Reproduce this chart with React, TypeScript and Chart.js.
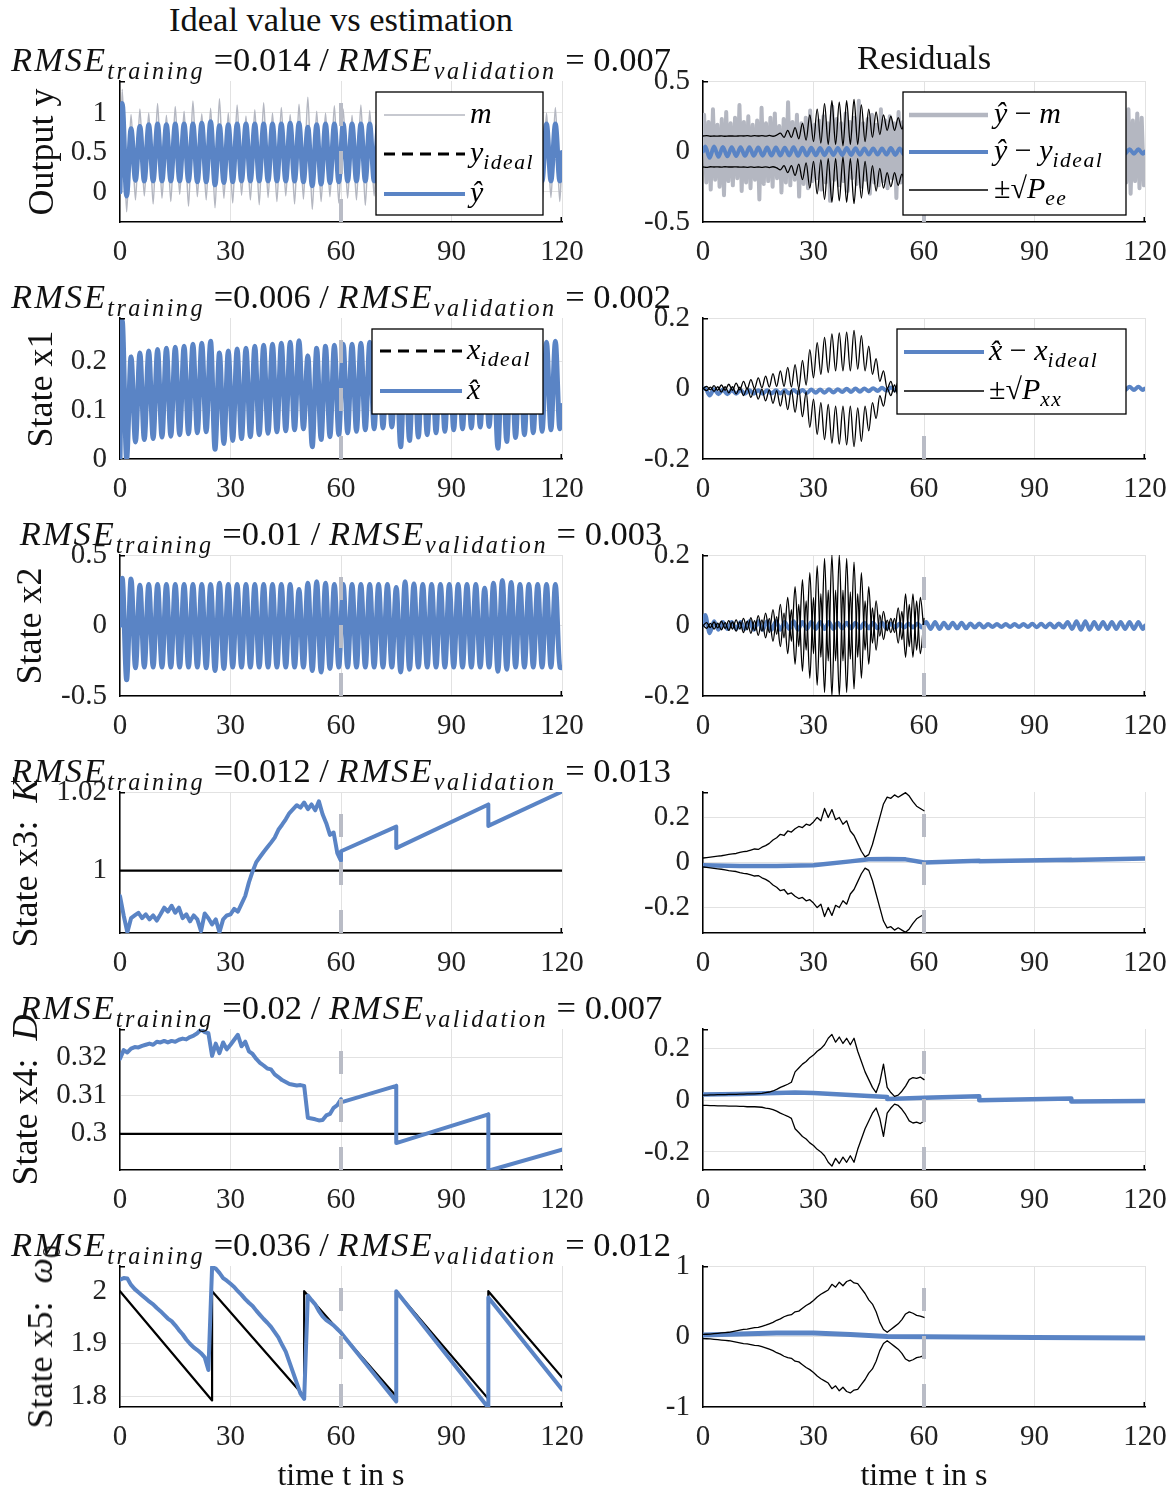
import React, { useEffect, useRef } from 'react';
import { Chart, registerables } from 'chart.js';

Chart.register(...registerables);

// ---------------- styles ----------------
const FONT = '"Liberation Serif", "Times New Roman", serif';
const BLUE = 'rgb(90,132,197)';
const GRAY = 'rgb(180,183,193)';
const VGRAY = 'rgb(185,188,198)';
const GRID = 'rgb(226,226,226)';
const TICK_COLOR = '#222';
const TICK_SIZE = 29;
const LEG_SIZE = 30;

// ---------------- data ----------------
const X_TICKS = [0, 30, 60, 90, 120];
const T_SPLIT = 60; // training / validation split
const HALF = 1.2; // half period of the oscillation samples (s)
const HALF_NOISE = 0.6; // spacing of the measurement-noise residual samples (s)

const RMSE_TRAIN = ['0.014', '0.006', '0.01', '0.012', '0.02', '0.036'];
const RMSE_VALID = ['0.007', '0.002', '0.003', '0.013', '0.007', '0.012'];

// Row 1 left: output y (peaks / troughs of each cycle)
const YHAT_PK = [
  1.12, 0.8, 0.83, 0.85, 0.86, 0.85, 0.86, 0.86, 0.86, 0.87,
  0.89, 0.84, 0.85, 0.86, 0.86, 0.86, 0.86, 0.86, 0.86, 0.87,
  0.87, 0.82, 0.85, 0.86, 0.86, 0.86, 0.86, 0.86, 0.86, 0.86,
  0.87, 0.84, 0.85, 0.86, 0.86, 0.86, 0.86, 0.86, 0.86, 0.86,
  0.86, 0.87, 0.83, 0.85, 0.86, 0.86, 0.86, 0.86, 0.86, 0.86];
const YHAT_TR = [
  -0.05, 0.15, 0.14, 0.14, 0.14, 0.14, 0.14, 0.14, 0.13, 0.13,
  0.09, 0.12, 0.13, 0.14, 0.14, 0.14, 0.14, 0.14, 0.14, 0.14,
  0.13, 0.08, 0.1, 0.12, 0.13, 0.14, 0.14, 0.14, 0.14, 0.14,
  0.14, 0.09, 0.11, 0.13, 0.14, 0.14, 0.14, 0.14, 0.14, 0.14,
  0.14, 0.14, 0.08, 0.11, 0.13, 0.14, 0.14, 0.14, 0.14, 0.14];
const YID_PK = [
  1.1, 0.81, 0.84, 0.85, 0.86, 0.86, 0.86, 0.86, 0.87, 0.87,
  0.88, 0.85, 0.85, 0.86, 0.86, 0.86, 0.86, 0.86, 0.86, 0.86,
  0.87, 0.83, 0.85, 0.86, 0.86, 0.86, 0.86, 0.86, 0.86, 0.86,
  0.86, 0.84, 0.85, 0.86, 0.86, 0.86, 0.86, 0.86, 0.86, 0.86,
  0.86, 0.86, 0.83, 0.85, 0.86, 0.86, 0.86, 0.86, 0.86, 0.86];
const YID_TR = [
  -0.04, 0.14, 0.14, 0.14, 0.14, 0.14, 0.14, 0.13, 0.13, 0.13,
  0.1, 0.12, 0.13, 0.14, 0.14, 0.14, 0.14, 0.14, 0.14, 0.14,
  0.12, 0.07, 0.09, 0.11, 0.12, 0.13, 0.14, 0.14, 0.14, 0.14,
  0.14, 0.09, 0.11, 0.13, 0.14, 0.14, 0.14, 0.14, 0.14, 0.14,
  0.14, 0.14, 0.08, 0.11, 0.13, 0.14, 0.14, 0.14, 0.14, 0.14];
const M_PK = [
  1.3, 0.98, 1.05, 1.0, 1.12, 0.97, 1.08, 1.02, 1.15, 0.99,
  1.06, 1.18, 1.0, 1.1, 0.96, 1.04, 1.13, 1.0, 1.07, 0.98,
  1.11, 1.2, 1.02, 1.0, 1.09, 1.05, 0.97, 1.1, 1.03, 1.14,
  1.0, 1.06, 1.12, 0.98, 1.04, 1.1, 1.01, 0.97, 1.08, 1.15,
  1.03, 1.0, 1.12, 1.06, 0.99, 1.1, 1.04, 1.13, 1.0, 1.07];
const M_TR = [
  -0.25, -0.1, -0.05, -0.15, -0.08, -0.12, -0.03, -0.18, -0.06, -0.1,
  -0.2, -0.08, -0.14, -0.04, -0.1, -0.16, -0.07, -0.12, -0.05, -0.15,
  -0.09, -0.22, -0.12, -0.06, -0.14, -0.08, -0.1, -0.17, -0.05, -0.11,
  -0.13, -0.2, -0.07, -0.09, -0.15, -0.04, -0.12, -0.1, -0.18, -0.06,
  -0.11, -0.08, -0.21, -0.13, -0.05, -0.14, -0.09, -0.16, -0.07, -0.12];

// Row 1 right: residuals (y_hat - m sampled every 0.6 s)
const RESM_PK = [
  0.26, 0.21, 0.3, 0.19, 0.23, 0.28, 0.2, 0.24, 0.33, 0.21,
  0.25, 0.19, 0.22, 0.31, 0.2, 0.24, 0.27, 0.18, 0.23, 0.35,
  0.21, 0.26, 0.2, 0.24, 0.29, 0.19, 0.22, 0.25, 0.2, 0.32,
  0.23, 0.2, 0.27, 0.21, 0.24, 0.36, 0.2, 0.23, 0.26, 0.19,
  0.3, 0.22, 0.25, 0.2, 0.28, 0.21, 0.24, 0.34, 0.2, 0.23,
  0.26, 0.19, 0.22, 0.29, 0.21, 0.25, 0.2, 0.31, 0.23, 0.2,
  0.27, 0.22, 0.24, 0.19, 0.33, 0.21, 0.25, 0.2, 0.28, 0.22,
  0.24, 0.2, 0.3, 0.21, 0.26, 0.19, 0.23, 0.35, 0.2, 0.24,
  0.27, 0.21, 0.25, 0.2, 0.29, 0.22, 0.24, 0.19, 0.32, 0.21,
  0.26, 0.2, 0.23, 0.28, 0.21, 0.25, 0.3, 0.22, 0.27, 0.24];
const RESM_TR = [
  -0.22, -0.27, -0.2, -0.25, -0.31, -0.21, -0.24, -0.19, -0.28, -0.22,
  -0.26, -0.2, -0.34, -0.23, -0.21, -0.25, -0.19, -0.29, -0.22, -0.24,
  -0.2, -0.32, -0.23, -0.26, -0.21, -0.19, -0.27, -0.22, -0.35, -0.2,
  -0.24, -0.21, -0.28, -0.19, -0.23, -0.25, -0.2, -0.3, -0.22, -0.24,
  -0.21, -0.26, -0.19, -0.33, -0.22, -0.25, -0.2, -0.23, -0.28, -0.21,
  -0.24, -0.2, -0.31, -0.22, -0.26, -0.19, -0.23, -0.27, -0.21, -0.25,
  -0.2, -0.34, -0.22, -0.24, -0.19, -0.28, -0.21, -0.25, -0.2, -0.3,
  -0.23, -0.21, -0.26, -0.19, -0.24, -0.32, -0.22, -0.25, -0.2, -0.27,
  -0.21, -0.23, -0.29, -0.2, -0.24, -0.22, -0.26, -0.19, -0.31, -0.23,
  -0.21, -0.25, -0.28, -0.2, -0.24, -0.22, -0.3, -0.21, -0.26, -0.24];
const RESY_PK = [
  0.035, 0.035, 0.032, 0.03, 0.03, 0.03, 0.028, 0.028, 0.028, 0.027,
  0.03, 0.027, 0.026, 0.025, 0.025, 0.024, 0.024, 0.023, 0.022, 0.022,
  0.022, 0.024, 0.021, 0.02, 0.02, 0.02, 0.019, 0.019, 0.018, 0.018,
  0.018, 0.02, 0.018, 0.017, 0.017, 0.017, 0.016, 0.016, 0.016, 0.016,
  0.016, 0.016, 0.018, 0.017, 0.016, 0.016, 0.016, 0.016, 0.016, 0.016];
const RESY_TR = [
  -0.045, -0.038, -0.034, -0.032, -0.031, -0.03, -0.03, -0.029, -0.028, -0.028,
  -0.03, -0.028, -0.027, -0.026, -0.025, -0.025, -0.024, -0.023, -0.022, -0.022,
  -0.022, -0.024, -0.021, -0.02, -0.02, -0.02, -0.019, -0.019, -0.018, -0.018,
  -0.018, -0.02, -0.018, -0.017, -0.017, -0.017, -0.016, -0.016, -0.016, -0.016,
  -0.016, -0.016, -0.018, -0.017, -0.016, -0.016, -0.016, -0.016, -0.016, -0.016];
// sqrt(Pee), one sample per second, t = 0..60
const PEE = [
  0.11, 0.112, 0.108, 0.11, 0.109, 0.111, 0.108, 0.11, 0.11, 0.109,
  0.111, 0.11, 0.112, 0.109, 0.112, 0.11, 0.113, 0.109, 0.114, 0.108,
  0.116, 0.13, 0.1, 0.15, 0.1, 0.17, 0.09, 0.2, 0.08, 0.26,
  0.07, 0.3, 0.06, 0.34, 0.05, 0.36, 0.05, 0.35, 0.04, 0.36,
  0.05, 0.37, 0.05, 0.33, 0.07, 0.3, 0.1, 0.28, 0.12, 0.26,
  0.15, 0.25, 0.15, 0.24, 0.16, 0.22, 0.17, 0.22, 0.17, 0.2,
  0.18];

// Row 2: state x1
const X1_PK = [
  0.285, 0.21, 0.218, 0.222, 0.225, 0.228, 0.23, 0.232, 0.236, 0.238,
  0.242, 0.218, 0.222, 0.226, 0.228, 0.232, 0.234, 0.236, 0.238, 0.24,
  0.243, 0.212, 0.228, 0.232, 0.234, 0.236, 0.236, 0.238, 0.24, 0.24,
  0.242, 0.215, 0.226, 0.23, 0.232, 0.235, 0.236, 0.238, 0.24, 0.24,
  0.242, 0.243, 0.21, 0.225, 0.23, 0.233, 0.236, 0.238, 0.24, 0.242];
const X1_TR = [
  0.0, 0.035, 0.04, 0.042, 0.045, 0.047, 0.05, 0.052, 0.054, 0.056,
  0.02, 0.032, 0.038, 0.042, 0.046, 0.05, 0.053, 0.056, 0.058, 0.06,
  0.062, 0.025, 0.04, 0.046, 0.05, 0.054, 0.057, 0.06, 0.062, 0.064,
  0.066, 0.025, 0.038, 0.045, 0.05, 0.054, 0.057, 0.06, 0.062, 0.064,
  0.066, 0.067, 0.022, 0.036, 0.044, 0.05, 0.054, 0.057, 0.06, 0.062];
const X1ID_PK = [
  0.29, 0.212, 0.22, 0.225, 0.228, 0.23, 0.232, 0.234, 0.238, 0.242,
  0.244, 0.22, 0.225, 0.226, 0.228, 0.232, 0.234, 0.236, 0.238, 0.24,
  0.243, 0.214, 0.228, 0.232, 0.234, 0.236, 0.236, 0.238, 0.24, 0.24,
  0.242, 0.215, 0.226, 0.23, 0.232, 0.235, 0.236, 0.238, 0.24, 0.24,
  0.242, 0.243, 0.21, 0.225, 0.23, 0.233, 0.236, 0.238, 0.24, 0.242];
const X1ID_TR = [
  0.0, 0.036, 0.04, 0.042, 0.045, 0.047, 0.05, 0.052, 0.054, 0.056,
  0.02, 0.032, 0.038, 0.042, 0.046, 0.05, 0.053, 0.056, 0.058, 0.06,
  0.062, 0.025, 0.04, 0.046, 0.05, 0.054, 0.057, 0.06, 0.062, 0.064,
  0.066, 0.025, 0.038, 0.045, 0.05, 0.054, 0.057, 0.06, 0.062, 0.064,
  0.066, 0.067, 0.022, 0.036, 0.044, 0.05, 0.054, 0.057, 0.06, 0.062];
const EX1_PK = [
  0.0, -0.002, -0.003, -0.004, -0.004, -0.005, -0.005, -0.005, -0.005, -0.005,
  -0.004, -0.004, -0.003, -0.003, -0.002, -0.002, -0.001, 0.0, 0.0, 0.001,
  0.002, 0.003, 0.004, 0.004, 0.004, 0.005, 0.005, 0.005, 0.005, 0.005,
  0.005, 0.005, 0.005, 0.005, 0.005, 0.005, 0.005, 0.005, 0.005, 0.005,
  0.005, 0.005, 0.005, 0.005, 0.005, 0.005, 0.005, 0.005, 0.005, 0.005];
const EX1_TR = [
  -0.02, -0.016, -0.016, -0.015, -0.015, -0.015, -0.015, -0.014, -0.014, -0.014,
  -0.013, -0.013, -0.012, -0.012, -0.011, -0.01, -0.01, -0.009, -0.008, -0.007,
  -0.006, -0.005, -0.004, -0.004, -0.004, -0.004, -0.004, -0.004, -0.004, -0.004,
  -0.004, -0.004, -0.004, -0.004, -0.004, -0.004, -0.004, -0.004, -0.004, -0.004,
  -0.004, -0.004, -0.004, -0.004, -0.004, -0.004, -0.004, -0.004, -0.004, -0.004];
const PXX1 = [
  0.0, 0.006, -0.004, 0.008, -0.005, 0.01, -0.005, 0.012, -0.005, 0.015,
  -0.004, 0.02, -0.002, 0.025, 0.0, 0.03, 0.002, 0.035, 0.004, 0.042,
  0.006, 0.05, 0.006, 0.06, 0.004, 0.068, 0.0, 0.08, 0.01, 0.11,
  0.03, 0.13, 0.04, 0.145, 0.045, 0.155, 0.05, 0.158, 0.05, 0.16,
  0.05, 0.165, 0.055, 0.15, 0.05, 0.12, 0.04, 0.085, 0.02, 0.05,
  0.0, 0.02, -0.01, 0.02, -0.005, 0.025, 0.0, 0.03, 0.005, 0.03,
  0.01];

// Row 3: state x2
const X2_PK = [
  0.335, 0.33, 0.285, 0.29, 0.29, 0.29, 0.29, 0.29, 0.29, 0.29,
  0.29, 0.3, 0.29, 0.29, 0.29, 0.29, 0.29, 0.29, 0.29, 0.29,
  0.255, 0.3, 0.31, 0.3, 0.29, 0.29, 0.29, 0.29, 0.29, 0.29,
  0.29, 0.27, 0.31, 0.295, 0.29, 0.29, 0.29, 0.29, 0.29, 0.29,
  0.29, 0.265, 0.3, 0.32, 0.305, 0.29, 0.29, 0.29, 0.29, 0.29];
const X2_TR = [
  -0.385, -0.3, -0.295, -0.295, -0.295, -0.295, -0.295, -0.295, -0.295, -0.3,
  -0.32, -0.305, -0.295, -0.295, -0.295, -0.295, -0.295, -0.295, -0.295, -0.295,
  -0.295, -0.32, -0.33, -0.305, -0.295, -0.295, -0.295, -0.295, -0.295, -0.295,
  -0.295, -0.33, -0.31, -0.295, -0.295, -0.295, -0.295, -0.295, -0.295, -0.295,
  -0.295, -0.295, -0.325, -0.31, -0.295, -0.295, -0.295, -0.295, -0.295, -0.295];
const EX2_PK = [
  0.03, 0.012, 0.01, 0.01, 0.01, 0.012, 0.012, 0.012, 0.012, 0.01,
  0.012, 0.01, 0.01, 0.01, 0.01, 0.008, 0.008, 0.008, 0.008, 0.008,
  0.008, 0.006, 0.006, 0.006, 0.006, 0.01, 0.01, 0.008, 0.008, 0.008,
  0.006, 0.006, 0.004, 0.004, 0.004, 0.004, 0.004, 0.005, 0.005, 0.006,
  0.006, 0.01, 0.012, 0.012, 0.01, 0.01, 0.01, 0.01, 0.01, 0.01];
const EX2_TR = [
  -0.022, -0.012, -0.01, -0.01, -0.01, -0.012, -0.012, -0.012, -0.012, -0.01,
  -0.012, -0.01, -0.01, -0.01, -0.01, -0.008, -0.008, -0.008, -0.008, -0.008,
  -0.008, -0.006, -0.006, -0.006, -0.006, -0.01, -0.01, -0.008, -0.008, -0.008,
  -0.006, -0.006, -0.004, -0.004, -0.004, -0.004, -0.004, -0.005, -0.005, -0.006,
  -0.006, -0.01, -0.012, -0.012, -0.01, -0.01, -0.01, -0.01, -0.01, -0.01];
const PXX2 = [
  0.0, 0.008, -0.006, 0.01, -0.007, 0.012, -0.008, 0.014, -0.01, 0.016,
  -0.01, 0.02, -0.012, 0.022, -0.014, 0.028, -0.016, 0.035, -0.02, 0.045,
  -0.025, 0.06, -0.035, 0.08, -0.045, 0.11, -0.06, 0.13, -0.07, 0.15,
  -0.08, 0.17, -0.09, 0.19, -0.1, 0.2, -0.1, 0.2, -0.1, 0.19,
  -0.095, 0.18, -0.09, 0.15, -0.07, 0.11, -0.05, 0.07, -0.03, 0.04,
  -0.015, 0.02, -0.02, 0.05, -0.04, 0.09, -0.06, 0.09, -0.07, 0.08,
  -0.02];

// Row 4: state x3 = K (training: one sample per second)
const K_TRAIN = [
  0.9935, 0.9885, 0.9842, 0.9878, 0.9885, 0.9892, 0.9878, 0.9888, 0.9875, 0.9885,
  0.9872, 0.9888, 0.9905, 0.9895, 0.991, 0.9892, 0.9905, 0.9878, 0.9888, 0.987,
  0.9885, 0.9875, 0.9845, 0.989, 0.9878, 0.9862, 0.9875, 0.9842, 0.9875, 0.9885,
  0.9888, 0.9902, 0.9895, 0.9915, 0.9935, 0.997, 0.9998, 1.0022, 1.0035, 1.0048,
  1.006, 1.0072, 1.0085, 1.0105, 1.0118, 1.0132, 1.0148, 1.0158, 1.0168, 1.0162,
  1.0175, 1.0158, 1.017, 1.0155, 1.0178, 1.0145, 1.0122, 1.0092, 1.0098, 1.0045,
  1.0025];
const K_VAL_T = [60, 75, 75, 100, 100, 120];
const K_VAL_V = [1.005, 1.0113, 1.0058, 1.017, 1.0115, 1.0203];
const K_ID_T = [0, 120];
const K_ID_V = [1, 1];
const PK = [
  0.02, 0.022, 0.024, 0.026, 0.028, 0.03, 0.033, 0.036, 0.038, 0.04,
  0.045, 0.048, 0.05, 0.055, 0.06, 0.058, 0.068, 0.075, 0.085, 0.1,
  0.11, 0.125, 0.12, 0.14, 0.135, 0.15, 0.16, 0.155, 0.17, 0.165,
  0.18, 0.2, 0.185, 0.24, 0.2, 0.235, 0.19, 0.2, 0.17, 0.185,
  0.14, 0.12, 0.085, 0.05, 0.025, 0.035, 0.08, 0.14, 0.2, 0.26,
  0.29, 0.285, 0.3, 0.29, 0.3, 0.31, 0.295, 0.27, 0.25, 0.24,
  0.23];
const EK_T = [0, 10, 20, 30, 40, 45, 50, 55, 60, 75, 75, 100, 100, 120];
const EK_V = [-0.012, -0.015, -0.016, -0.012, 0.005, 0.014, 0.016, 0.014, 0.0, 0.008, 0.006, 0.012, 0.011, 0.018];

// Row 5: state x4 = D
const D_TRAIN = [
  0.3196, 0.3218, 0.3212, 0.3222, 0.3226, 0.3225, 0.3229, 0.3232, 0.3235, 0.3232,
  0.324, 0.3238, 0.3242, 0.3238, 0.3242, 0.324, 0.3245, 0.3248, 0.3246, 0.3252,
  0.3256, 0.3262, 0.3272, 0.3265, 0.3262, 0.3203, 0.3235, 0.321, 0.3238, 0.322,
  0.3232, 0.3245, 0.3258, 0.3228, 0.324, 0.3215, 0.3208, 0.3195, 0.3185, 0.3178,
  0.317, 0.3168, 0.3155, 0.3148, 0.314, 0.3135, 0.313, 0.3128, 0.3126, 0.3127,
  0.3125, 0.3042, 0.304, 0.3038, 0.3035, 0.3036, 0.3048, 0.3052, 0.3068, 0.3075,
  0.309];
const D_VAL_T = [60, 75, 75, 100, 100, 120];
const D_VAL_V = [0.3082, 0.3125, 0.2976, 0.3051, 0.2904, 0.2959];
const D_ID_T = [0, 120];
const D_ID_V = [0.3, 0.3];
const PD = [
  0.02, 0.02, 0.021, 0.021, 0.022, 0.022, 0.022, 0.023, 0.023, 0.023,
  0.024, 0.024, 0.025, 0.025, 0.025, 0.026, 0.027, 0.03, 0.032, 0.036,
  0.042, 0.05, 0.056, 0.062, 0.07, 0.11, 0.125, 0.14, 0.15, 0.165,
  0.175, 0.19, 0.2, 0.215, 0.24, 0.255, 0.225, 0.245, 0.22, 0.24,
  0.215, 0.24, 0.19, 0.15, 0.11, 0.08, 0.05, 0.03, 0.07, 0.14,
  0.05, 0.03, 0.015, 0.02, 0.035, 0.055, 0.08, 0.088, 0.085, 0.09,
  0.08];
const ED_T = [0, 10, 20, 25, 30, 40, 50, 50, 60, 75, 75, 100, 100, 120];
const ED_V = [0.022, 0.024, 0.028, 0.03, 0.028, 0.02, 0.013, 0.005, 0.01, 0.016, 0.0, 0.007, -0.005, -0.003];

// Row 6: state x5 = omega0
const W_TRAIN = [
  2.022, 2.025, 2.024, 2.012, 2.004, 1.998, 1.992, 1.986, 1.98, 1.975,
  1.968, 1.962, 1.955, 1.948, 1.943, 1.935, 1.926, 1.918, 1.908, 1.9,
  1.893, 1.888, 1.882, 1.874, 1.85, 2.046, 2.043, 2.035, 2.025, 2.02,
  2.014, 2.008, 2.0, 1.993, 1.985, 1.978, 1.972, 1.963, 1.955, 1.947,
  1.94, 1.932, 1.922, 1.912, 1.898, 1.885, 1.865, 1.845, 1.825, 1.805,
  1.795, 1.992, 1.983, 1.975, 1.962, 1.952, 1.945, 1.94, 1.935, 1.928,
  1.921];
const W_VAL_T = [60, 75, 75, 100, 100, 120];
const W_VAL_V = [1.921, 1.79, 2.0, 1.778, 1.988, 1.813];
const W_ID_T = [0, 25, 25, 50, 50, 75, 75, 100, 100, 120];
const W_ID_V = [2.0, 1.792, 2.0, 1.8, 2.0, 1.8, 2.0, 1.795, 2.0, 1.836];
const PW = [
  0.03, 0.032, 0.035, 0.04, 0.045, 0.05, 0.055, 0.06, 0.07, 0.08,
  0.09, 0.1, 0.105, 0.115, 0.125, 0.13, 0.145, 0.16, 0.18, 0.2,
  0.23, 0.25, 0.28, 0.3, 0.31, 0.35, 0.36, 0.4, 0.44, 0.47,
  0.51, 0.56, 0.6, 0.63, 0.66, 0.74, 0.7, 0.77, 0.72, 0.78,
  0.8, 0.76, 0.75, 0.68, 0.61, 0.52, 0.46, 0.35, 0.2, 0.1,
  0.06, 0.1, 0.14, 0.18, 0.24, 0.32, 0.35, 0.33, 0.3, 0.29,
  0.27];
const EW_T = [0, 10, 20, 30, 40, 50, 60, 90, 120];
const EW_V = [0.02, 0.035, 0.05, 0.05, 0.03, 0.0, -0.005, -0.015, -0.022];

// ---------------- helpers ----------------
type Pt = { x: number; y: number };
function oscPts(start: number, pk: number[], tr: number[], end: number, half = HALF): Pt[] {
  const out: Pt[] = [{ x: 0, y: start }];
  for (let k = 0; k < pk.length; k++) {
    out.push({ x: half * (2 * k + 0.5), y: pk[k] });
    if (k < tr.length) out.push({ x: half * (2 * k + 1.5), y: tr[k] });
  }
  out.push({ x: 120, y: end });
  return out;
}
function gridPts(vals: number[], sign = 1): Pt[] {
  return vals.map((v, i) => ({ x: i, y: sign * v }));
}
function pairs(ts: number[], vs: number[]): Pt[] {
  return ts.map((t, i) => ({ x: t, y: vs[i] }));
}
function fmt(v: number) {
  return String(Math.round(v * 1000) / 1000);
}

// ---------------- layout ----------------
const ROW_TOP = [81, 318, 555, 792, 1029, 1266];
const COL_LEFT = [120, 703];
const PLOT_W = 442;
const PLOT_H = 141;
const ML = 115, MR = 45, MT = 34, MB = 55;

type Run = { t: string; it?: boolean; sub?: boolean };
const L_Y = [{ t: 'y', it: true }, { t: 'ideal', it: true, sub: true }];
const L_X = [{ t: 'x', it: true }, { t: 'ideal', it: true, sub: true }];

const LEG_R1L = {
  box: [376, 92, 167, 123], lineX: [384, 465], textX: 470, rows: [115, 154, 194],
  items: [
    { color: GRAY, width: 1.5, runs: [{ t: 'm', it: true }] },
    { color: '#000', width: 3, dash: [11, 7], runs: L_Y },
    { color: BLUE, width: 4, runs: [{ t: 'ŷ', it: true }] },
  ],
};
const LEG_R1R = {
  box: [903, 92, 223, 123], lineX: [909, 988], textX: 994, rows: [115, 152, 190],
  items: [
    { color: GRAY, width: 4.5, runs: [{ t: 'ŷ', it: true }, { t: ' − ' }, { t: 'm', it: true }] },
    { color: BLUE, width: 4, runs: [{ t: 'ŷ', it: true }, { t: ' − ' }, ...L_Y] },
    { color: '#000', width: 1.3, runs: [{ t: '±√' }, { t: 'P', it: true }, { t: 'ee', it: true, sub: true }] },
  ],
};
const LEG_R2L = {
  box: [372, 329, 171, 85], lineX: [380, 462], textX: 467, rows: [351, 391],
  items: [
    { color: '#000', width: 3, dash: [11, 7], runs: L_X },
    { color: BLUE, width: 4, runs: [{ t: 'x\u0302', it: true }] },
  ],
};
const LEG_R2R = {
  box: [897, 329, 229, 85], lineX: [904, 984], textX: 989, rows: [352, 391],
  items: [
    { color: BLUE, width: 4, runs: [{ t: 'x\u0302', it: true }, { t: ' − ' }, ...L_X] },
    { color: '#000', width: 1.3, runs: [{ t: '±√' }, { t: 'P', it: true }, { t: 'xx', it: true, sub: true }] },
  ],
};

type Series = { pts: Pt[]; color: string; width: number; dash?: number[]; smooth?: boolean; order: number };
type PanelSpec = { row: number; col: number; ymin: number; ymax: number; yticks: number[]; series: Series[]; legend?: any };

const PANELS: PanelSpec[] = [
  {
    row: 0, col: 0, ymin: -0.38, ymax: 1.405, yticks: [0, 0.5, 1], legend: LEG_R1L,
    series: [
      { pts: oscPts(0, M_PK, M_TR, 0.5), color: GRAY, width: 1.6, order: 4, smooth: true },
      { pts: oscPts(0, YID_PK, YID_TR, 0.5), color: '#000', width: 2.5, dash: [8, 6], order: 3, smooth: true },
      { pts: oscPts(0, YHAT_PK, YHAT_TR, 0.5), color: BLUE, width: 5, order: 2, smooth: true },
    ],
  },
  {
    row: 0, col: 1, ymin: -0.5, ymax: 0.5, yticks: [-0.5, 0, 0.5], legend: LEG_R1R,
    series: [
      { pts: oscPts(0, RESM_PK, RESM_TR, -0.1, HALF_NOISE), color: GRAY, width: 4, order: 4 },
      { pts: oscPts(0, RESY_PK, RESY_TR, 0), color: BLUE, width: 4, order: 3, smooth: true },
      { pts: gridPts(PEE, 1), color: '#000', width: 1.3, order: 2, smooth: true },
      { pts: gridPts(PEE, -1), color: '#000', width: 1.3, order: 2, smooth: true },
    ],
  },
  {
    row: 1, col: 0, ymin: 0, ymax: 0.29, yticks: [0, 0.1, 0.2], legend: LEG_R2L,
    series: [
      { pts: oscPts(0, X1ID_PK, X1ID_TR, 0.11), color: '#000', width: 2.5, dash: [8, 6], order: 3, smooth: true },
      { pts: oscPts(0, X1_PK, X1_TR, 0.11), color: BLUE, width: 5, order: 2, smooth: true },
    ],
  },
  {
    row: 1, col: 1, ymin: -0.2, ymax: 0.2, yticks: [-0.2, 0, 0.2], legend: LEG_R2R,
    series: [
      { pts: oscPts(0, EX1_PK, EX1_TR, 0), color: BLUE, width: 4, order: 3, smooth: true },
      { pts: gridPts(PXX1, 1), color: '#000', width: 1.3, order: 2, smooth: true },
      { pts: gridPts(PXX1, -1), color: '#000', width: 1.3, order: 2, smooth: true },
    ],
  },
  {
    row: 2, col: 0, ymin: -0.5, ymax: 0.5, yticks: [-0.5, 0, 0.5],
    series: [{ pts: oscPts(0, X2_PK, X2_TR, -0.3), color: BLUE, width: 5, order: 2, smooth: true }],
  },
  {
    row: 2, col: 1, ymin: -0.2, ymax: 0.2, yticks: [-0.2, 0, 0.2],
    series: [
      { pts: oscPts(0, EX2_PK, EX2_TR, 0), color: BLUE, width: 4, order: 3, smooth: true },
      { pts: gridPts(PXX2, 1), color: '#000', width: 1.3, order: 2, smooth: true },
      { pts: gridPts(PXX2, -1), color: '#000', width: 1.3, order: 2, smooth: true },
    ],
  },
  {
    row: 3, col: 0, ymin: 0.984, ymax: 1.0202, yticks: [1, 1.02],
    series: [
      { pts: pairs(K_ID_T, K_ID_V), color: '#000', width: 2.2, order: 3 },
      { pts: gridPts(K_TRAIN).concat(pairs(K_VAL_T, K_VAL_V)), color: BLUE, width: 4, order: 2 },
    ],
  },
  {
    row: 3, col: 1, ymin: -0.313, ymax: 0.313, yticks: [-0.2, 0, 0.2],
    series: [
      { pts: pairs(EK_T, EK_V), color: BLUE, width: 4.5, order: 3 },
      { pts: gridPts(PK, 1), color: '#000', width: 1.3, order: 2 },
      { pts: gridPts(PK, -1), color: '#000', width: 1.3, order: 2 },
    ],
  },
  {
    row: 4, col: 0, ymin: 0.2906, ymax: 0.3273, yticks: [0.3, 0.31, 0.32],
    series: [
      { pts: pairs(D_ID_T, D_ID_V), color: '#000', width: 2.2, order: 3 },
      { pts: gridPts(D_TRAIN).concat(pairs(D_VAL_T, D_VAL_V)), color: BLUE, width: 4, order: 2 },
    ],
  },
  {
    row: 4, col: 1, ymin: -0.27, ymax: 0.276, yticks: [-0.2, 0, 0.2],
    series: [
      { pts: pairs(ED_T, ED_V), color: BLUE, width: 4.5, order: 3 },
      { pts: gridPts(PD, 1), color: '#000', width: 1.3, order: 2 },
      { pts: gridPts(PD, -1), color: '#000', width: 1.3, order: 2 },
    ],
  },
  {
    row: 5, col: 0, ymin: 1.7795, ymax: 2.048, yticks: [1.8, 1.9, 2],
    series: [
      { pts: pairs(W_ID_T, W_ID_V), color: '#000', width: 2.2, order: 3 },
      { pts: gridPts(W_TRAIN).concat(pairs(W_VAL_T, W_VAL_V)), color: BLUE, width: 4, order: 2 },
    ],
  },
  {
    row: 5, col: 1, ymin: -1, ymax: 1, yticks: [-1, 0, 1],
    series: [
      { pts: pairs(EW_T, EW_V), color: BLUE, width: 5, order: 3 },
      { pts: gridPts(PW, 1), color: '#000', width: 1.3, order: 2 },
      { pts: gridPts(PW, -1), color: '#000', width: 1.3, order: 2 },
    ],
  },
];

function drawRuns(ctx: CanvasRenderingContext2D, runs: Run[], x: number, y: number, size: number) {
  let cx = x;
  for (const r of runs) {
    const s = r.sub ? size * 0.72 : size;
    ctx.font = `${r.it ? 'italic ' : ''}${s}px ${FONT}`;
    const yy = r.sub ? y + size * 0.3 : y;
    if (r.sub) {
      for (const ch of r.t) {
        ctx.fillText(ch, cx, yy);
        cx += ctx.measureText(ch).width + 1.5;
      }
    } else {
      ctx.fillText(r.t, cx, yy);
      cx += ctx.measureText(r.t).width;
    }
  }
}

function makeFramePlugin(leg: any, offX: number, offY: number) {
  return {
    id: 'frameAndLegend',
    afterDraw(chart: any) {
      const ctx: CanvasRenderingContext2D = chart.ctx;
      const a = chart.chartArea;
      ctx.save();
      // small end ticks of the axes (MATLAB style)
      ctx.strokeStyle = '#000';
      ctx.lineWidth = 1.5;
      ctx.beginPath();
      ctx.moveTo(a.left, a.top + 0.75);
      ctx.lineTo(a.left + 5, a.top + 0.75);
      ctx.moveTo(a.right - 0.75, a.bottom);
      ctx.lineTo(a.right - 0.75, a.bottom - 5);
      ctx.stroke();
      if (leg) {
        const [bx, by, bw, bh] = leg.box;
        ctx.fillStyle = '#fff';
        ctx.fillRect(bx - offX, by - offY, bw, bh);
        ctx.lineWidth = 1.3;
        ctx.strokeStyle = '#000';
        ctx.strokeRect(bx - offX, by - offY, bw, bh);
        leg.items.forEach((it: any, i: number) => {
          const y = leg.rows[i] - offY;
          ctx.beginPath();
          ctx.setLineDash(it.dash || []);
          ctx.strokeStyle = it.color;
          ctx.lineWidth = it.width;
          ctx.lineCap = 'butt';
          ctx.moveTo(leg.lineX[0] - offX, y);
          ctx.lineTo(leg.lineX[1] - offX, y);
          ctx.stroke();
          ctx.setLineDash([]);
          ctx.fillStyle = '#000';
          ctx.textBaseline = 'middle';
          ctx.textAlign = 'left';
          drawRuns(ctx, it.runs, leg.textX - offX, y, LEG_SIZE);
        });
      }
      ctx.restore();
    },
  };
}

function Panel({ spec }: { spec: PanelSpec }) {
  const ref = useRef<HTMLCanvasElement>(null);
  const left = COL_LEFT[spec.col] - ML;
  const top = ROW_TOP[spec.row] - MT;
  useEffect(() => {
    const all: Series[] = [
      ...spec.series,
      { pts: [{ x: T_SPLIT, y: spec.ymin }, { x: T_SPLIT, y: spec.ymax }], color: VGRAY, width: 4, dash: [23, 25], order: 0 },
    ];
    const tickFont = { family: FONT, size: TICK_SIZE };
    const chart = new Chart(ref.current as HTMLCanvasElement, {
      type: 'line',
      data: {
        datasets: all.map((s) => ({
          data: s.pts,
          borderColor: s.color,
          borderWidth: s.width,
          borderDash: s.dash || [],
          borderCapStyle: s.dash ? 'butt' : 'round',
          borderJoinStyle: 'round',
          pointRadius: 0,
          pointHoverRadius: 0,
          fill: false,
          tension: 0,
          cubicInterpolationMode: s.smooth ? 'monotone' : 'default',
          order: s.order,
          clip: 0,
        })),
      } as any,
      options: {
        animation: false,
        responsive: false,
        maintainAspectRatio: false,
        events: [],
        layout: { padding: { top: MT, right: MR, bottom: 0, left: 0 } },
        plugins: { legend: { display: false }, tooltip: { enabled: false }, title: { display: false } },
        scales: {
          x: {
            type: 'linear', min: 0, max: 120,
            afterBuildTicks: (s: any) => { s.ticks = X_TICKS.map((v) => ({ value: v })); },
            afterFit: (s: any) => { s.height = MB; },
            ticks: { font: tickFont, color: TICK_COLOR, padding: 13, maxRotation: 0, autoSkip: false, callback: (v: any) => fmt(Number(v)) },
            grid: { color: GRID, lineWidth: 1, drawTicks: false },
            border: { display: true, color: '#000', width: 1.5 },
          },
          y: {
            type: 'linear', min: spec.ymin, max: spec.ymax,
            afterBuildTicks: (s: any) => { s.ticks = spec.yticks.map((v) => ({ value: v })); },
            afterFit: (s: any) => { s.width = ML; },
            ticks: { font: tickFont, color: TICK_COLOR, padding: 13, autoSkip: false, callback: (v: any) => fmt(Number(v)) },
            grid: { color: GRID, lineWidth: 1, drawTicks: false },
            border: { display: true, color: '#000', width: 1.5 },
          },
        },
      } as any,
      plugins: [makeFramePlugin(spec.legend, left, top)],
    });
    return () => chart.destroy();
  }, []);
  return (
    <canvas
      ref={ref}
      width={ML + PLOT_W + MR}
      height={MT + PLOT_H + MB}
      style={{ position: 'absolute', left, top, width: ML + PLOT_W + MR, height: MT + PLOT_H + MB }}
    />
  );
}

function Txt({ x, y, size, rot, children }: { x: number; y: number; size: number; rot?: boolean; children: any }) {
  return (
    <div
      style={{
        position: 'absolute', left: x, top: y,
        transform: `translate(-50%, -50%)${rot ? ' rotate(-90deg)' : ''}`,
        fontSize: size, lineHeight: 1, whiteSpace: 'nowrap', color: '#111', fontFamily: FONT,
      }}
    >
      {children}
    </div>
  );
}

const SUB: React.CSSProperties = { fontStyle: 'italic', fontSize: '0.7em', letterSpacing: '2.5px', position: 'relative', top: '0.32em' };
const MI: React.CSSProperties = { fontStyle: 'italic', letterSpacing: '2px' };

function RmseLine({ tr, va }: { tr: string; va: string }) {
  return (
    <>
      <span style={MI}>RMSE</span>
      <span style={SUB}>training</span>
      {'\u00a0=' + tr + '\u00a0/\u00a0'}
      <span style={MI}>RMSE</span>
      <span style={SUB}>validation</span>
      {'\u00a0=\u00a0' + va}
    </>
  );
}

const YLABELS: any[] = [
  'Output y',
  'State x1',
  'State x2',
  <>State x3:&nbsp; <i>K</i></>,
  <>State x4:&nbsp; <i>D</i></>,
  <>State x5:&nbsp; <i>ω</i><span style={{ fontSize: '0.7em', position: 'relative', top: '0.3em' }}>0</span></>,
];
const YLABEL_X = [41, 40, 28.5, 24.5, 24.5, 40];

export default function App() {
  return (
    <div style={{ position: 'absolute', left: 0, top: 0, width: 1174, height: 1493, background: '#fff', overflow: 'hidden' }}>
      {PANELS.map((p, i) => (
        <Panel key={i} spec={p} />
      ))}
      <Txt x={341} y={19} size={34.5}>Ideal value vs estimation</Txt>
      <Txt x={924} y={57} size={34.5}>Residuals</Txt>
      {ROW_TOP.map((t, i) => (
        <Txt key={'r' + i} x={341} y={t - 22} size={34.5}>
          <RmseLine tr={RMSE_TRAIN[i]} va={RMSE_VALID[i]} />
        </Txt>
      ))}
      {ROW_TOP.map((t, i) => (
        <Txt key={'y' + i} x={YLABEL_X[i]} y={t + PLOT_H / 2} size={36} rot>
          {YLABELS[i]}
        </Txt>
      ))}
      <Txt x={341} y={1474} size={32}>time t in s</Txt>
      <Txt x={924} y={1474} size={32}>time t in s</Txt>
    </div>
  );
}
